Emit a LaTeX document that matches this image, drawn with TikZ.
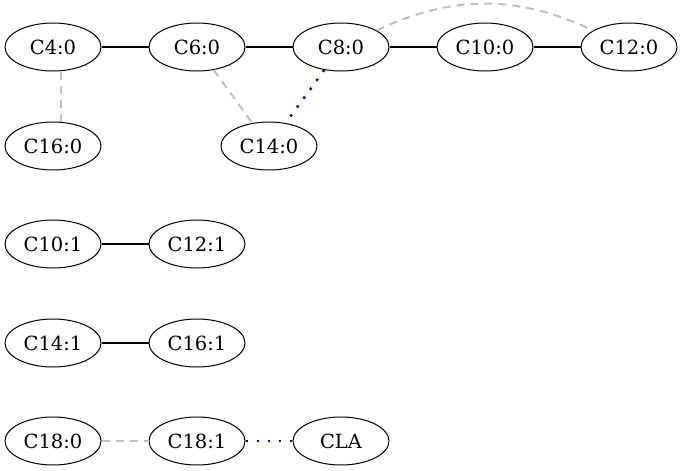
\documentclass[tikz,border=0pt]{standalone}
\usepackage{fontspec}
\setmainfont{DejaVu Serif}
\definecolor{dashgray}{HTML}{C0C0C0}
\definecolor{dotblue}{HTML}{0000C8}
\usetikzlibrary{shapes.geometric}

\begin{document}
\begin{tikzpicture}[x=1pt, y=-1pt,
    knoten/.style={draw, ellipse, line width=1pt, minimum width=96pt,
      minimum height=48pt, inner sep=0pt, font=\fontsize{19.5}{22}\selectfont},
    fest/.style={line width=2pt},
    grau/.style={dashgray, line width=2pt, dash pattern=on 8pt off 6pt},
    blau/.style={dotblue, line width=2.4pt, dash pattern=on 2.4pt off 8.6pt}]
    \useasboundingbox (0,0) rectangle (683,471);
    \foreach \n/\px/\py/\lab in {%
      c40/53/47/{C4:0},
      c60/197/47/{C6:0},
      c80/341/47/{C8:0},
      c100/485/47/{C10:0},
      c120/629/47/{C12:0},
      c160/53/146/{C16:0},
      c140/269/146/{C14:0},
      c101/53/244/{C10:1},
      c121/197/244/{C12:1},
      c141/53/343/{C14:1},
      c161/197/343/{C16:1},
      c180/53/441/{C18:0},
      c181/197/441/{C18:1},
      cla/341/441/{CLA}}{%
      \node[knoten] (\n) at (\px, \py) {\lab};
    }
    \draw[fest] (c40) -- (c60);
    \draw[fest] (c60) -- (c80);
    \draw[fest] (c80) -- (c100);
    \draw[fest] (c100) -- (c120);
    \draw[fest] (c101) -- (c121);
    \draw[fest] (c141) -- (c161);
    \draw[grau] ([xshift=8pt]c40.south) -- ([xshift=8pt]c160.north);
    \draw[grau] (c60) -- (c140);
    \draw[blau] (c80) -- (c140);
    \draw[grau] (c80) to[bend left=25] (c120);
    \draw[grau] (c180) -- (c181);
    \draw[blau] (c181) -- (cla);
  \end{tikzpicture}
\end{document}
